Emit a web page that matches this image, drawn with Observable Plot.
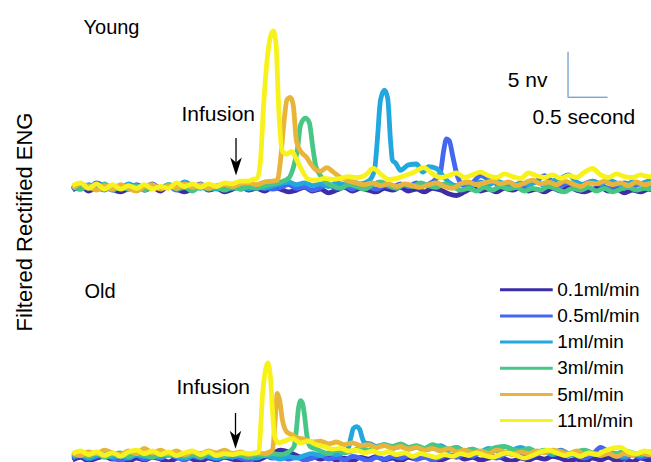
<!DOCTYPE html>
<html><head><meta charset="utf-8">
<script src="https://cdn.jsdelivr.net/npm/d3@7"></script>
<script src="https://cdn.jsdelivr.net/npm/@observablehq/plot@0.6"></script>
<style>
body{margin:0;background:#fff;}
#wrap{position:relative;width:651px;height:462px;overflow:hidden;font-family:"Liberation Sans",Arial,sans-serif;background:#fff;}
#wrap svg{position:absolute;left:0;}
</style></head><body><div id="wrap"></div>
<script>
// Series labels and colours
const rates = ["0.1ml/min","0.5ml/min","1ml/min","3ml/min","5ml/min","11ml/min"];
const colors = ["#3c2da8","#4466f0","#22a8de","#48c686","#e9b43a","#f7f21c"];
const panelTitles = ["Young","Old"];
const yLabel = "Filtered Rectified ENG";
const annotation = "Infusion";
const scaleLabels = ["5 nv","0.5 second"];
const scaleSize = {nv: 5, seconds: 0.5};

// [time (s), signal (nv above baseline)]
const young_01 = [[0,-0.4],[0.1,0],[0.2,-0.5],[0.3,-0.1],[0.4,0.2],[0.5,-0.3],[0.6,-0.6],[0.7,-0.2],[0.8,0.1],[0.9,-0.4],[1,-0.1],[1.1,-0.5],[1.2,0.1],[1.3,-0.3],[1.4,-0.6],[1.5,-0.2],[1.6,0.1],[1.7,-0.4],[1.8,-0.2],[1.9,-0.6],[2,-0.3],[2.1,0],[2.2,-0.4],[2.3,-0.2],[2.4,-0.5],[2.5,-0.1],[2.6,-0.3],[2.7,-0.6],[2.8,-0.4],[2.9,-0.1],[3,-0.5],[3.1,-0.3],[3.2,-0.7],[3.3,-0.4],[3.4,-0.1],[3.5,-0.5],[3.6,-0.2],[3.7,-0.4],[3.8,-0.6],[3.9,-0.2],[4,-0.4],[4.1,-0.1],[4.2,-0.5],[4.3,-0.3],[4.4,-0.6],[4.5,-0.2],[4.6,-0.4],[4.7,-0.8],[4.8,-1.0],[4.9,-0.6],[5,-0.2],[5.1,-0.5],[5.2,-0.3],[5.3,-0.6],[5.4,-0.2],[5.5,-0.4],[5.6,-0.1],[5.7,-0.5],[5.8,-0.3],[5.9,-0.6],[6,-0.2],[6.1,-0.5],[6.2,-0.1],[6.3,-0.4],[6.4,-0.6],[6.5,-0.3],[6.6,-0.1],[6.7,-0.5],[6.8,-0.3],[6.9,-0.7],[7,-0.4],[7.1,-0.6],[7.2,-0.3],[7.25,-0.4]];
const young_05 = [[0,-0.3],[0.1,0.1],[0.2,-0.2],[0.3,0.4],[0.4,0],[0.5,-0.4],[0.6,0.1],[0.7,-0.3],[0.8,0.2],[0.9,-0.1],[1,0.3],[1.1,-0.2],[1.2,0],[1.3,-0.4],[1.4,0.2],[1.5,-0.1],[1.6,0.3],[1.7,-0.3],[1.8,0],[1.9,-0.2],[2,0.2],[2.1,-0.3],[2.2,0.1],[2.3,-0.2],[2.4,0],[2.5,-0.3],[2.6,-0.1],[2.7,0.2],[2.8,-0.2],[2.9,0],[3,-0.4],[3.1,-0.1],[3.2,0.2],[3.3,-0.2],[3.4,0.1],[3.5,-0.3],[3.6,0.2],[3.7,0],[3.8,-0.3],[3.9,0.1],[4,-0.1],[4.1,0.3],[4.2,0],[4.3,0.4],[4.4,0.1],[4.5,0.5],[4.56,1.0],[4.6,1.6],[4.64,4.0],[4.675,5.3],[4.71,5.1],[4.75,3.5],[4.8,1.5],[4.86,0.3],[4.92,0],[5,0.4],[5.1,1.2],[5.2,0.8],[5.3,0.3],[5.4,0],[5.5,0.3],[5.6,-0.1],[5.7,0.2],[5.8,0.6],[5.9,1.2],[6,0.5],[6.1,0.1],[6.2,0.4],[6.3,0],[6.4,0.3],[6.5,0.6],[6.6,0.2],[6.7,-0.2],[6.8,0.1],[6.9,0.4],[7,0],[7.1,0.3],[7.2,-0.1],[7.25,0.1]];
const young_1 = [[0,0],[0.1,-0.3],[0.2,0.2],[0.3,-0.1],[0.4,-0.4],[0.5,0.1],[0.6,-0.2],[0.7,0.3],[0.8,-0.1],[0.9,-0.3],[1,0.1],[1.1,-0.2],[1.2,0.2],[1.3,0],[1.4,0.5],[1.5,0.1],[1.6,-0.2],[1.7,0.2],[1.8,-0.3],[1.9,0],[2,-0.2],[2.1,0.1],[2.2,-0.3],[2.3,0],[2.4,-0.2],[2.5,0.1],[2.6,0.3],[2.7,0.5],[2.8,0.2],[2.9,0.4],[3,0.1],[3.1,0.3],[3.2,0],[3.3,0.4],[3.4,0.2],[3.5,0.5],[3.6,0.3],[3.7,0.6],[3.775,1.8],[3.81,5.1],[3.85,9.6],[3.9,10.7],[3.94,9.8],[3.975,5.1],[4,2.9],[4.04,2.6],[4.1,1.8],[4.2,2.4],[4.3,2.5],[4.38,1.6],[4.45,2.2],[4.55,2.0],[4.62,1.3],[4.7,0.5],[4.8,0.1],[4.9,0.4],[5,0.1],[5.1,0.5],[5.2,0.2],[5.3,0.6],[5.4,0.3],[5.5,0],[5.6,0.4],[5.7,0.2],[5.8,0.5],[5.9,0.1],[6,0.6],[6.1,0.9],[6.2,1.3],[6.3,0.5],[6.4,0.2],[6.5,0.6],[6.6,0.3],[6.7,0.7],[6.8,0.4],[6.9,0.1],[7,0.5],[7.1,0.3],[7.2,0.6],[7.25,0.4]];
const young_3 = [[0,0.2],[0.1,-0.3],[0.2,0.1],[0.3,-0.2],[0.4,0.3],[0.5,-0.4],[0.6,0],[0.7,-0.3],[0.8,0.1],[0.9,-0.4],[1,0],[1.1,-0.2],[1.2,0.2],[1.3,-0.3],[1.4,-0.1],[1.5,-0.5],[1.6,0],[1.7,-0.3],[1.8,-0.1],[1.9,-0.4],[2,-0.1],[2.1,-0.3],[2.2,0],[2.3,-0.2],[2.4,0.1],[2.5,0.3],[2.6,0.5],[2.7,0.9],[2.76,2.1],[2.81,4.0],[2.85,6.8],[2.91,7.6],[2.96,7.1],[3,4.6],[3.04,2.3],[3.1,1.2],[3.175,0.4],[3.25,0.1],[3.35,-0.2],[3.45,0.2],[3.55,0],[3.65,-0.3],[3.75,0.2],[3.85,0.5],[3.95,0.1],[4.05,-0.2],[4.15,0.2],[4.25,0],[4.35,0.4],[4.45,0.1],[4.55,-0.1],[4.65,0.3],[4.75,0],[4.85,-0.4],[4.95,-0.2],[5.05,-0.5],[5.15,-0.1],[5.25,-0.4],[5.35,0],[5.45,-0.3],[5.55,-0.1],[5.65,-0.5],[5.75,-0.2],[5.85,-0.4],[5.95,0],[6.05,-0.3],[6.15,-0.6],[6.25,-0.2],[6.35,-0.4],[6.45,-0.1],[6.55,-0.5],[6.65,-0.2],[6.75,-0.6],[6.85,-0.3],[6.95,-0.1],[7.05,-0.4],[7.15,-0.2],[7.25,-0.3]];
const young_5 = [[0,-0.2],[0.1,0.3],[0.2,0],[0.3,-0.4],[0.4,0.1],[0.5,-0.3],[0.6,0.2],[0.7,-0.2],[0.8,-0.5],[0.9,0],[1,0.2],[1.1,-0.3],[1.2,0.1],[1.3,-0.2],[1.4,0.3],[1.5,-0.1],[1.6,0.2],[1.7,-0.2],[1.8,0.1],[1.9,0.2],[2,0],[2.1,0.3],[2.2,0.4],[2.3,0.2],[2.4,0.5],[2.5,0.6],[2.56,0.7],[2.6,2.9],[2.64,6.8],[2.68,9.6],[2.725,9.9],[2.76,9.0],[2.8,5.0],[2.86,3.8],[2.92,3.3],[2.98,2.5],[3.05,1.8],[3.1,1.7],[3.18,2.1],[3.26,1.6],[3.35,1.0],[3.45,0.6],[3.55,0.4],[3.65,0.2],[3.75,0.4],[3.85,0.1],[3.95,0.3],[4.05,0],[4.15,0.3],[4.25,0.1],[4.35,-0.1],[4.45,0.2],[4.55,0.4],[4.65,0],[4.75,-0.2],[4.85,0.3],[4.95,0.5],[5.05,0.2],[5.15,0.4],[5.25,0.6],[5.35,0.3],[5.45,0.5],[5.55,0.1],[5.65,0.4],[5.75,0.7],[5.85,0.3],[5.95,0.5],[6.05,0.2],[6.15,0.6],[6.25,0.3],[6.35,0],[6.45,0.4],[6.55,0.3],[6.65,0.6],[6.75,0.2],[6.85,0.4],[6.95,0.1],[7.05,0.5],[7.15,0.2],[7.25,0.4]];
const young_11 = [[0,0.1],[0.1,0.4],[0.2,-0.2],[0.3,0.3],[0.4,-0.3],[0.5,0.2],[0.6,-0.3],[0.7,0.1],[0.8,-0.2],[0.9,0.2],[1,-0.3],[1.1,0],[1.2,-0.2],[1.3,0.4],[1.4,0],[1.5,0.3],[1.6,-0.1],[1.7,0.3],[1.8,0],[1.9,0.4],[2,0.3],[2.1,0.6],[2.2,0.6],[2.26,0.8],[2.31,0.9],[2.35,2.9],[2.39,9.2],[2.45,15.4],[2.51,17.3],[2.545,15.7],[2.575,9.2],[2.62,4.0],[2.675,3.6],[2.74,3.9],[2.8,3.0],[2.88,1.6],[2.95,0.8],[3.05,0.7],[3.15,0.9],[3.25,0.8],[3.35,0.9],[3.45,1.1],[3.55,1.0],[3.65,1.2],[3.76,2.0],[3.85,1.4],[3.95,0.8],[4.05,0.9],[4.15,1.2],[4.25,1.5],[4.39,2.1],[4.5,1.4],[4.6,1.0],[4.7,1.2],[4.8,1.5],[4.9,1.0],[5,1.3],[5.1,1.6],[5.2,1.2],[5.3,1.0],[5.4,1.4],[5.5,1.1],[5.6,0.9],[5.7,1.5],[5.8,1.2],[5.9,1.0],[6,1.3],[6.1,0.9],[6.2,1.2],[6.3,1.0],[6.4,1.6],[6.5,2.0],[6.6,1.3],[6.7,1.0],[6.8,1.4],[6.9,1.1],[7,1.0],[7.1,1.3],[7.2,1.1],[7.25,1.2]];

const old_01 = [[0,-0.5],[0.1,-0.2],[0.2,-0.6],[0.3,-0.3],[0.4,-0.1],[0.5,-0.4],[0.6,-0.2],[0.7,-0.6],[0.8,-0.3],[0.9,-0.5],[1,-0.2],[1.1,-0.4],[1.2,-0.7],[1.3,-0.3],[1.4,-0.1],[1.5,-0.4],[1.6,-0.6],[1.7,-0.3],[1.8,-0.5],[1.9,-0.2],[2,-0.4],[2.1,-0.6],[2.2,-0.3],[2.3,-0.5],[2.4,-0.2],[2.5,0.2],[2.6,0.6],[2.7,0.4],[2.8,0],[2.9,-0.3],[3,-0.1],[3.1,-0.4],[3.2,-0.2],[3.3,-0.5],[3.4,-0.3],[3.5,-0.6],[3.6,-0.2],[3.7,-0.4],[3.8,-0.1],[3.9,-0.5],[4,-0.3],[4.1,-0.6],[4.2,-0.2],[4.3,-0.4],[4.4,-0.1],[4.5,-0.3],[4.6,-0.5],[4.7,-0.2],[4.8,0],[4.9,-0.4],[5,-0.2],[5.1,-0.5],[5.2,-0.3],[5.3,-0.1],[5.4,-0.4],[5.5,-0.6],[5.6,-0.3],[5.7,-0.5],[5.8,-0.2],[5.9,-0.4],[6,-0.1],[6.1,-0.3],[6.2,-0.6],[6.3,-0.4],[6.4,-0.7],[6.5,-0.3],[6.6,-0.5],[6.7,-0.2],[6.8,-0.6],[6.9,-0.4],[7,-0.7],[7.1,-0.3],[7.2,-0.5],[7.25,-0.4]];
const old_05 = [[0,-0.3],[0.1,0],[0.2,-0.4],[0.3,-0.1],[0.4,0.1],[0.5,-0.3],[0.6,-0.5],[0.7,-0.2],[0.8,0],[0.9,-0.4],[1,-0.1],[1.1,-0.3],[1.2,0.1],[1.3,-0.2],[1.4,-0.5],[1.5,-0.1],[1.6,-0.3],[1.7,0],[1.8,-0.4],[1.9,-0.2],[2,0],[2.1,-0.3],[2.2,-0.5],[2.3,-0.2],[2.4,0],[2.5,-0.3],[2.6,-0.1],[2.7,-0.4],[2.8,-0.2],[2.9,-0.5],[3,-0.3],[3.1,0],[3.2,-0.4],[3.3,-0.2],[3.4,-0.5],[3.5,-0.1],[3.6,-0.3],[3.7,-0.6],[3.8,-0.2],[3.9,-0.4],[4,-0.1],[4.1,-0.3],[4.2,0],[4.3,-0.4],[4.4,-0.2],[4.5,-0.5],[4.6,-0.2],[4.7,0.1],[4.8,-0.2],[4.9,0.2],[5,-0.1],[5.1,0.3],[5.2,0],[5.3,-0.3],[5.4,0.1],[5.5,0.4],[5.6,0],[5.7,-0.2],[5.8,0.1],[5.9,0.5],[6,0.2],[6.1,0.6],[6.2,0.2],[6.3,0],[6.4,-0.3],[6.5,0.1],[6.6,0.9],[6.7,0.4],[6.8,0],[6.9,-0.3],[7,0.1],[7.1,-0.2],[7.2,0],[7.25,-0.1]];
const old_1 = [[0,-0.2],[0.1,0.1],[0.2,-0.3],[0.3,0],[0.4,0.2],[0.5,-0.2],[0.6,0],[0.7,-0.3],[0.8,0.1],[0.9,-0.1],[1,0.2],[1.1,-0.2],[1.2,0.1],[1.3,-0.1],[1.4,-0.3],[1.5,0],[1.6,0.2],[1.7,-0.1],[1.8,-0.3],[1.9,0],[2,-0.2],[2.1,0.1],[2.2,-0.1],[2.3,-0.3],[2.4,0],[2.5,-0.2],[2.6,-0.4],[2.7,-0.1],[2.8,-0.3],[2.9,0],[3,0.2],[3.1,0],[3.2,0.3],[3.3,0.1],[3.4,0.4],[3.45,0.9],[3.48,2.0],[3.51,3.0],[3.55,3.2],[3.59,2.9],[3.62,2.0],[3.65,1.4],[3.72,1.3],[3.8,1.0],[3.9,1.2],[4,0.8],[4.1,1.0],[4.2,0.7],[4.3,0.9],[4.4,0.6],[4.5,0.8],[4.6,1.1],[4.7,0.7],[4.8,0.9],[4.9,0.5],[5,0.7],[5.1,0.4],[5.2,0.8],[5.3,0.5],[5.4,0.3],[5.5,0.6],[5.6,0.9],[5.7,0.5],[5.8,0.2],[5.9,0.4],[6,0.1],[6.1,0.3],[6.2,0],[6.3,0.2],[6.4,0.5],[6.5,0.2],[6.6,0],[6.7,0.3],[6.8,0.1],[6.9,-0.1],[7,0.2],[7.1,0],[7.2,0.3],[7.25,0.1]];
const old_3 = [[0,0],[0.1,0.3],[0.2,-0.1],[0.3,0.2],[0.4,-0.2],[0.5,0.1],[0.6,0.3],[0.7,-0.1],[0.8,0.2],[0.9,0],[1,-0.2],[1.1,0.2],[1.2,0],[1.3,0.3],[1.4,-0.1],[1.5,0.1],[1.6,-0.2],[1.7,0.2],[1.8,0],[1.9,-0.1],[2,0.2],[2.1,0],[2.2,-0.2],[2.3,0.1],[2.4,0],[2.5,0.2],[2.6,0.1],[2.7,0.4],[2.77,1.0],[2.8,3.0],[2.825,5.3],[2.85,6.1],[2.875,5.8],[2.9,4.5],[2.93,2.2],[2.97,1.0],[3.02,0.8],[3.1,0.5],[3.2,0.2],[3.3,0.6],[3.4,0.3],[3.5,0.5],[3.6,0.8],[3.7,0.6],[3.8,0.9],[3.9,1.2],[4,1.0],[4.1,1.3],[4.2,0.9],[4.3,1.1],[4.4,0.8],[4.5,1.2],[4.6,0.9],[4.7,0.6],[4.8,0.9],[4.9,0.5],[5,0.7],[5.1,0.4],[5.2,0.6],[5.3,0.9],[5.4,1.0],[5.5,0.7],[5.6,0.5],[5.7,0.8],[5.8,0.4],[5.9,0.6],[6,0.3],[6.1,0.5],[6.2,0.2],[6.3,0.4],[6.4,0.6],[6.5,0.3],[6.6,0.1],[6.7,0.4],[6.8,0.2],[6.9,0.5],[7,0.3],[7.1,0.1],[7.2,0.4],[7.25,0.3]];
const old_5 = [[0,0.3],[0.1,0],[0.2,0.4],[0.3,0.2],[0.4,0.6],[0.5,0.3],[0.6,0.1],[0.7,0.5],[0.8,0.2],[0.9,0.8],[1,0.3],[1.1,0.6],[1.2,0.2],[1.3,0.5],[1.4,0.1],[1.5,0.4],[1.6,0.2],[1.7,0.5],[1.8,0.3],[1.9,0.6],[2,0.2],[2.1,0.4],[2.2,0.1],[2.3,0.3],[2.4,0.2],[2.5,0.6],[2.53,3.5],[2.56,6.9],[2.59,6.1],[2.625,3.9],[2.68,2.6],[2.72,2.4],[2.8,2.0],[2.9,1.8],[3,1.5],[3.1,1.6],[3.2,1.3],[3.3,1.5],[3.4,1.2],[3.5,1.4],[3.6,1.1],[3.7,1.2],[3.8,0.9],[3.9,1.1],[4,0.8],[4.1,1.0],[4.2,0.7],[4.3,0.9],[4.4,0.6],[4.5,0.8],[4.6,0.5],[4.7,0.8],[4.8,0.4],[4.9,0.6],[5,0.3],[5.1,0.5],[5.2,0.2],[5.3,0.6],[5.4,0.4],[5.5,0.1],[5.6,0.4],[5.7,0.2],[5.8,0.5],[5.9,0.3],[6,0.6],[6.1,0.4],[6.2,0.2],[6.3,0.5],[6.4,0.1],[6.5,0.3],[6.6,0],[6.7,0.2],[6.8,-0.1],[6.9,0.2],[7,0],[7.1,0.3],[7.2,0.1],[7.25,0.2]];
const old_11 = [[0,0.2],[0.1,0.5],[0.2,0.1],[0.3,0.4],[0.4,0],[0.5,0.3],[0.6,-0.1],[0.7,0.4],[0.8,0.6],[0.9,0.2],[1,0.5],[1.1,0.1],[1.2,0.4],[1.3,0],[1.4,0.3],[1.5,0.5],[1.6,0.1],[1.7,0.4],[1.8,0],[1.9,0.2],[2,0.1],[2.1,0.3],[2.2,0.2],[2.3,0.3],[2.33,0.4],[2.35,2.8],[2.375,6.7],[2.41,9.4],[2.44,10.3],[2.475,8.6],[2.5,5.0],[2.525,2.2],[2.575,1.4],[2.65,1.6],[2.75,1.9],[2.85,1.4],[2.95,1.6],[3.05,1.2],[3.15,1.0],[3.25,0.7],[3.35,0.8],[3.45,0.5],[3.55,0.6],[3.65,0.3],[3.75,0.5],[3.85,0.2],[3.95,0.4],[4.05,0.1],[4.15,0.3],[4.25,-0.1],[4.35,0.2],[4.45,0],[4.55,-0.2],[4.65,0.1],[4.75,-0.1],[4.85,0.2],[4.95,0],[5.05,0.3],[5.15,0],[5.25,-0.2],[5.35,0.1],[5.45,0.3],[5.55,0],[5.65,-0.3],[5.75,0],[5.85,0.4],[5.95,0.6],[6.05,0.3],[6.15,0],[6.25,0.2],[6.35,-0.1],[6.45,0.3],[6.55,0.1],[6.65,0.5],[6.75,0.8],[6.85,0.9],[6.95,0.4],[7.05,0.2],[7.15,0.5],[7.25,0.2]];

const youngSeries = [young_01, young_05, young_1, young_3, young_5, young_11];
const oldSeries = [old_01, old_05, old_1, old_3, old_5, old_11];

// ---------- drawing ----------
const W = 651, PH = 231;
const xDomain = [0, 7.2375];
const FONT = "Liberation Sans, Arial, Helvetica, sans-serif";

const arrowHead = {
  draw(ctx, size) {
    const s = Math.sqrt(size / Math.PI);
    ctx.moveTo(0, 0);
    ctx.lineTo(-5.8 * s, -18 * s);
    ctx.lineTo(0, -13 * s);
    ctx.lineTo(5.8 * s, -18 * s);
    ctx.closePath();
  }
};

function traces(series) {
  return series.map((s, i) => Plot.line(s, {
    x: d => d[0], y: d => d[1], stroke: colors[i], strokeWidth: 4.8,
    curve: "monotone-x", strokeLinejoin: "round", strokeLinecap: "butt"
  }));
}
function arrowMarks(t, yTop, yTip) {
  return [
    Plot.ruleX([t], {y1: yTop, y2: yTip + 1, stroke: "black", strokeWidth: 1.3}),
    Plot.dot([t], {x: d => d, y: yTip, r: 1, symbol: arrowHead, fill: "black", stroke: "none"})
  ];
}
const label = (txt, x, y, size) => Plot.text([txt], {x, y, text: d => d, textAnchor: "start", fontSize: size, fill: "black"});

const topPlot = Plot.plot({
  width: W, height: PH,
  marginLeft: 72, marginRight: 0, marginTop: 6, marginBottom: 36,
  x: {domain: xDomain, axis: null},
  y: {domain: [-1, 20], axis: null},
  style: {fontFamily: FONT, background: "transparent", overflow: "visible"},
  marks: [
    ...traces(youngSeries),
    label(panelTitles[0], 0.1375, 17.71, 20),
    label(annotation, 1.362, 8.08, 21),
    ...arrowMarks(2.044, 5.33, 1.22),
    Plot.ruleX([6.194], {y1: 9.92, y2: 9.92 + scaleSize.nv, stroke: "#4682c4", strokeWidth: 1}),
    Plot.ruleY([9.92], {x1: 6.194, x2: 6.194 + scaleSize.seconds, stroke: "#4682c4", strokeWidth: 1}),
    label(scaleLabels[0], 5.44, 11.78, 21),
    label(scaleLabels[1], 5.75, 7.74, 21)
  ]
});

const legendRows = rates.map((r, i) => ({label: r, color: colors[i], y: 18.41 - 2.906 * i}));

const bottomPlot = Plot.plot({
  width: W, height: PH,
  marginLeft: 72, marginRight: 0, marginTop: 41.3, marginBottom: 0.7,
  x: {domain: xDomain, axis: null},
  y: {domain: [-0.7, 20.3], axis: null},
  style: {fontFamily: FONT, background: "transparent", overflow: "visible"},
  marks: [
    ...traces(oldSeries),
    label(panelTitles[1], 0.15, 18.16, 20),
    label(annotation, 1.3, 7.6, 21),
    ...arrowMarks(2.0375, 4.67, 0.74),
    Plot.ruleY(legendRows, {y: "y", x1: 5.35, x2: 6.009, stroke: "color", strokeWidth: 3}),
    Plot.text(legendRows, {x: 6.06, y: "y", text: "label", textAnchor: "start", fontSize: 19, fill: "black"})
  ]
});

const wrap = document.getElementById("wrap");
topPlot.style.top = "0px";
bottomPlot.style.top = PH + "px";
wrap.appendChild(topPlot);
wrap.appendChild(bottomPlot);

// shared y label across both panels
const lab = d3.select(wrap).append("svg")
  .attr("width", W).attr("height", 462)
  .style("top", "0px").style("pointer-events", "none");
lab.append("text")
  .attr("transform", "translate(31.5,222) rotate(-90)")
  .attr("text-anchor", "middle")
  .attr("font-family", FONT)
  .attr("font-size", 22)
  .attr("fill", "#000")
  .text(yLabel);
</script>
</body></html>
